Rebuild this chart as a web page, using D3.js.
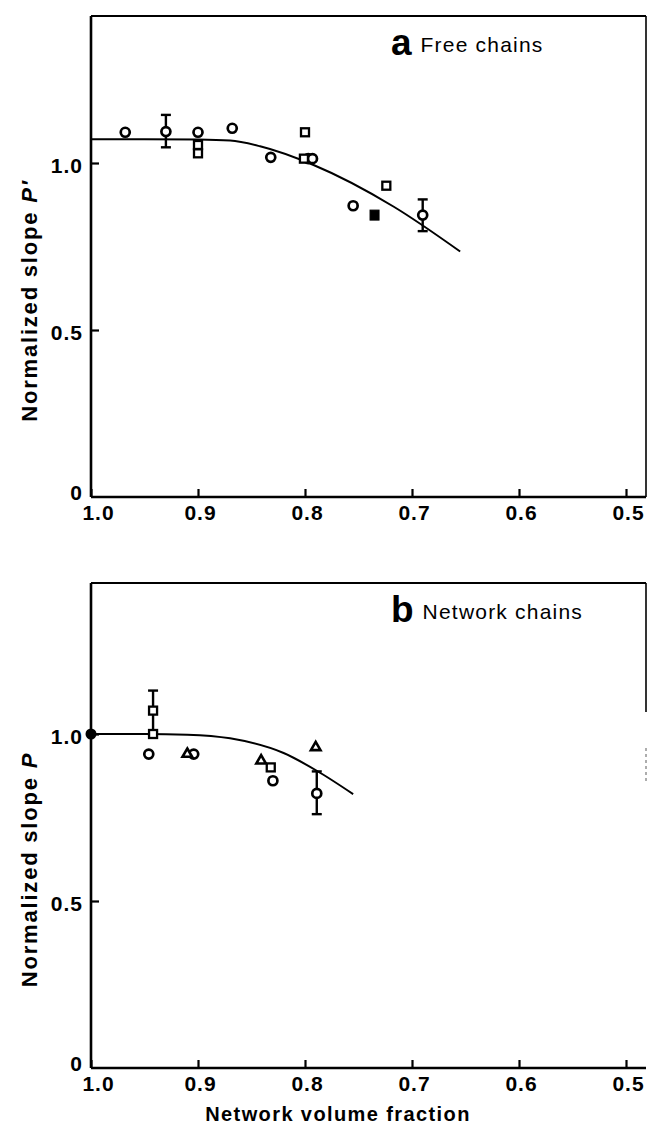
<!DOCTYPE html>
<html><head><meta charset="utf-8">
<script src="https://cdn.jsdelivr.net/npm/d3@7"></script>
<style>
html,body{margin:0;padding:0;background:#fff;}
svg{display:block;}
text{font-family:"Liberation Sans",Arial,sans-serif;fill:#000;}
</style></head>
<body>
<svg id="c" width="648" height="1126"></svg>
<script>
// ---------- data ----------
const xTicks = [1.0, 0.9, 0.8, 0.7, 0.6, 0.5];
const xTickLabels = ["1.0", "0.9", "0.8", "0.7", "0.6", "0.5"];
const yTicks = [0, 0.5, 1.0];
const yTickLabels = ["0", "0.5", "1.0"];

// Panel a: free chains
const aCircles = [[0.968,1.092],[0.930,1.094],[0.900,1.092],[0.868,1.104],[0.832,1.017],[0.797,1.013],[0.793,1.013],[0.755,0.872],[0.690,0.844]];
const aSquares = [[0.900,1.054],[0.900,1.029],[0.800,1.092],[0.801,1.013],[0.724,0.932]];
const aFilledSquares = [[0.735,0.844]];
const aErrorBars = [[0.930,1.047,1.144],[0.690,0.796,0.891]];
const aCurve = [[1.0,1.071],[0.95,1.071],[0.90,1.070],[0.87,1.067],[0.842,1.050],[0.792,0.994],[0.717,0.869],[0.655,0.735]];

// Panel b: network chains
const bCircles = [[0.946,0.94],[0.904,0.94],[0.830,0.86],[0.789,0.822]];
const bSquares = [[0.942,1.07],[0.942,1.0],[0.832,0.90]];
const bTriangles = [[0.910,0.94],[0.841,0.92],[0.790,0.96]];
const bFilledCircles = [[1.0,1.0]];
const bErrorBars = [[0.942,1.0,1.13],[0.789,0.76,0.888]];
const bCurve = [[1.0,1.0],[0.95,1.0],[0.91,0.998],[0.87,0.987],[0.82,0.943],[0.789,0.89],[0.755,0.82]];

// ---------- drawing ----------
const svg = d3.select("#c");
const X0 = 91, X1 = 646;
const x = d3.scaleLinear().domain([1.0, 0.5]).range([X0, 626]);

function panel(top, bottom, curve, circles, squares, filledSquares, triangles, filledCircles, errs, letter, label, ytitle, rightEnd, dashed){
  const y = d3.scaleLinear().domain([0, 1.0]).range([bottom, bottom - 334]);
  const g = svg.append("g");
  const line = d3.line().x(d=>x(d[0])).y(d=>y(d[1])).curve(d3.curveMonotoneX);
  // frame top & right
  g.append("line").attr("x1",X0).attr("x2",X1).attr("y1",top).attr("y2",top).attr("stroke","#000").attr("stroke-width",2.2);
  g.append("line").attr("x1",X1).attr("x2",X1).attr("y1",top).attr("y2",rightEnd).attr("stroke","#000").attr("stroke-width",1.6);
  if (dashed) g.append("line").attr("x1",X1).attr("x2",X1).attr("y1",dashed[0]).attr("y2",dashed[1])
    .attr("stroke","#777").attr("stroke-width",1.2).attr("stroke-dasharray","3,3");
  // axes
  const xa = d3.axisBottom(x).tickValues(xTicks).tickSize(-8).tickFormat((d,i)=>xTickLabels[i]).tickSizeOuter(0);
  const xg = g.append("g").attr("transform",`translate(0,${bottom})`).call(xa);
  xg.select(".domain").attr("stroke-width",2.6).attr("d",`M${X0},0H${X1}`);
  xg.selectAll(".tick line").attr("stroke-width",2.2);
  xg.selectAll(".tick text").attr("font-size",21).attr("font-weight","bold").attr("letter-spacing","1px").attr("dy","0.95em")
    .attr("dx",(d)=> d===1.0 ? 7 : 2);
  const ya = d3.axisLeft(y).tickValues(yTicks).tickSize(-8).tickFormat((d,i)=>yTickLabels[i]).tickSizeOuter(0);
  const yg = g.append("g").attr("transform",`translate(${X0},0)`).call(ya);
  yg.select(".domain").attr("stroke-width",2.6).attr("d",`M0,${top}V${bottom}`);
  yg.selectAll(".tick line").attr("stroke-width",2.2).attr("opacity",d=>d===0?0:1);
  yg.selectAll(".tick text").attr("font-size",21).attr("font-weight","bold").attr("letter-spacing","1px").attr("x",-8).attr("dy",d=>d===0?"0.1em":"0.45em");
  svg.selectAll(".domain").attr("stroke","#000");
  // curve
  g.append("path").datum(curve).attr("d",line).attr("fill","none").attr("stroke","#000").attr("stroke-width",2);
  // error bars
  errs.forEach(e=>{
    g.append("line").attr("x1",x(e[0])).attr("x2",x(e[0])).attr("y1",y(e[1])).attr("y2",y(e[2])).attr("stroke","#000").attr("stroke-width",2.4);
    [e[1],e[2]].forEach(v=>g.append("line").attr("x1",x(e[0])-5).attr("x2",x(e[0])+5).attr("y1",y(v)).attr("y2",y(v)).attr("stroke","#000").attr("stroke-width",2.4));
  });
  g.selectAll(null).data(circles).enter().append("circle").attr("cx",d=>x(d[0])).attr("cy",d=>y(d[1])).attr("r",4.5)
    .attr("fill","#fff").attr("stroke","#000").attr("stroke-width",2.7);
  g.selectAll(null).data(squares).enter().append("rect").attr("x",d=>x(d[0])-4).attr("y",d=>y(d[1])-4).attr("width",8).attr("height",8)
    .attr("fill","#fff").attr("stroke","#000").attr("stroke-width",2.3);
  g.selectAll(null).data(filledSquares).enter().append("rect").attr("x",d=>x(d[0])-4.5).attr("y",d=>y(d[1])-5).attr("width",9).attr("height",10)
    .attr("fill","#000").attr("stroke","#000").attr("stroke-width",1);
  const tri = d3.symbol().type(d3.symbolTriangle).size(40);
  g.selectAll(null).data(triangles).enter().append("path").attr("d",tri).attr("transform",d=>`translate(${x(d[0])},${y(d[1])})`)
    .attr("fill","#fff").attr("stroke","#000").attr("stroke-width",2.6);
  g.selectAll(null).data(filledCircles).enter().append("circle").attr("cx",d=>x(d[0])).attr("cy",d=>y(d[1])).attr("r",5.5).attr("fill","#000");
  // label
  const lab = g.append("text").attr("x",391).attr("y",top+39);
  lab.append("tspan").attr("font-size",37).attr("font-weight","bold").text(letter);
  lab.append("tspan").attr("font-size",21).attr("letter-spacing","1.2px").attr("dx",9).attr("dy",-3).text(label);
  // y title
  const t = g.append("text").attr("transform",`translate(37,${(top+bottom)/2+44}) rotate(-90)`).attr("text-anchor","middle")
    .attr("font-size",22).attr("font-weight","bold").attr("letter-spacing","1.8px");
  t.append("tspan").text("Normalized slope ");
  t.append("tspan").attr("font-style","italic").text(ytitle);
}

panel(16, 497, aCurve, aCircles, aSquares, aFilledSquares, [], [], aErrorBars, "a", "Free chains", "P′", 497, null);
panel(583, 1068, bCurve, bCircles, bSquares, [], bTriangles, bFilledCircles, bErrorBars, "b", "Network chains", "P", 712, [748, 782]);

svg.append("text").attr("x",338).attr("y",1121).attr("text-anchor","middle").attr("font-size",20).attr("font-weight","bold")
  .attr("letter-spacing","1.4px").text("Network volume fraction");
</script>
</body></html>
